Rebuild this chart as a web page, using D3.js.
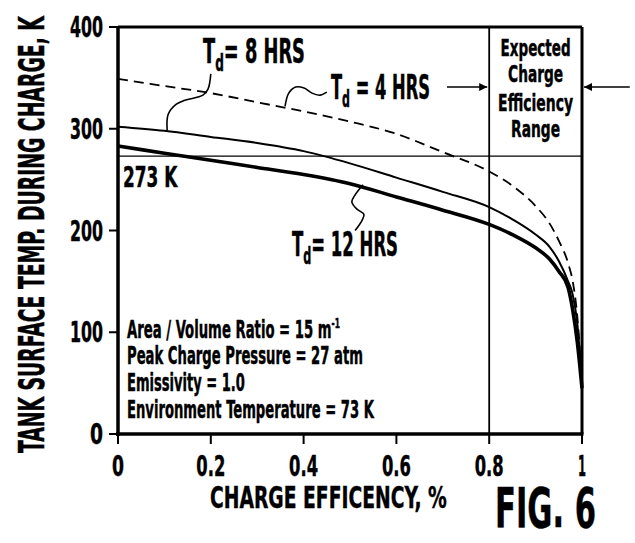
<!DOCTYPE html>
<html>
<head>
<meta charset="utf-8">
<script src="https://cdn.jsdelivr.net/npm/d3@7"></script>
<style>
  body { margin: 0; background: #fff; }
  text { font-family: "Liberation Sans Narrow", "Arial Narrow", "DejaVu Sans Condensed", sans-serif; font-weight: bold; fill: #000; stroke: #000; stroke-width: 0.4; }
</style>
</head>
<body>
<svg id="chart" width="635" height="543"></svg>
<script>
// charge efficiency (fraction) sampled along each curve
const efficiency = [0, 0.1, 0.2, 0.3, 0.4, 0.5, 0.6, 0.7, 0.8, 0.85, 0.9, 0.93, 0.95, 0.97, 0.98, 0.99, 1.0];
// tank surface temperature, K
const td4 = [349, 342, 335, 326, 317, 307, 295, 277, 258, 244, 224, 207, 190, 168, 150, 115, 50];
const td8 = [302, 298, 292, 286, 278, 266, 252, 238, 223, 211, 196, 184, 170, 150, 137, 108, 48];
const td12 = [283, 276, 269, 262, 255, 246, 233, 220, 206, 196, 183, 172, 160, 144, 122, 90, 45];

const xTicks = [0, 0.2, 0.4, 0.6, 0.8, 1];
const xTickLabels = ['0', '0.2', '0.4', '0.6', '0.8', '1'];
const yTicks = [0, 100, 200, 300, 400];

const freezeTemp = 273;
const rangeStart = 0.8;
const rangeLabel = ['Expected', 'Charge', 'Efficiency', 'Range'];
const notes = ['Area / Volume Ratio = 15 m', 'Peak Charge Pressure = 27 atm', 'Emissivity = 1.0', 'Environment Temperature = 73 K'];

// leader squiggles from labels to curves, [efficiency, K]
const lead8 = [[0.200, 354], [0.194, 339], [0.183, 333], [0.144, 328], [0.125, 324], [0.108, 314], [0.106, 298]];
const lead4 = [[0.360, 322], [0.368, 335], [0.383, 341], [0.401, 340], [0.418, 335], [0.435, 333], [0.450, 336]];
const lead12 = [[0.528, 245], [0.511, 235], [0.504, 228], [0.515, 221], [0.530, 216], [0.526, 210], [0.511, 200]];

const svg = d3.select('#chart');

const x = d3.scaleLinear().domain([0, 1]).range([118, 582]);
const y = d3.scaleLinear().domain([0, 400]).range([434, 27]);

// squeeze a text element so it spans w pixels from left, stretched tall by sy
function fit(t, left, base, w, sy) {
  sy = sy || 1.12;
  const bw = t.node().getBBox().width;
  t.attr('transform', 'translate(' + left + ',' + base + ') scale(' + (w / bw) + ',' + sy + ')');
  return t;
}
function addText(str, size) {
  return svg.append('text').attr('font-size', size).text(str);
}

// frame
svg.append('line').attr('x1', x(0)).attr('x2', x(1)).attr('y1', y(400)).attr('y2', y(400))
  .attr('stroke', '#000').attr('stroke-width', 3);
svg.append('line').attr('x1', x(1)).attr('x2', x(1)).attr('y1', y(400)).attr('y2', y(0))
  .attr('stroke', '#000').attr('stroke-width', 3);

// reference lines
svg.append('line').attr('x1', x(0)).attr('x2', x(1)).attr('y1', y(freezeTemp)).attr('y2', y(freezeTemp))
  .attr('stroke', '#000').attr('stroke-width', 1.2);
svg.append('line').attr('x1', x(rangeStart)).attr('x2', x(rangeStart)).attr('y1', y(400)).attr('y2', y(0))
  .attr('stroke', '#000').attr('stroke-width', 1.8);

// axes
svg.append('line').attr('x1', x(0)).attr('x2', x(0)).attr('y1', y(400) - 1).attr('y2', y(0) + 2)
  .attr('stroke', '#000').attr('stroke-width', 3.5);
svg.append('line').attr('x1', x(0) - 2).attr('x2', x(1) + 1.5).attr('y1', y(0)).attr('y2', y(0))
  .attr('stroke', '#000').attr('stroke-width', 3.5);

svg.selectAll('.ytick').data(yTicks).enter().append('line')
  .attr('x1', x(0) - 9).attr('x2', x(0)).attr('y1', d => y(d)).attr('y2', d => y(d))
  .attr('stroke', '#000').attr('stroke-width', 2);
svg.selectAll('.xtick').data(xTicks).enter().append('line')
  .attr('x1', d => x(d)).attr('x2', d => x(d)).attr('y1', y(0)).attr('y2', y(0) + 10)
  .attr('stroke', '#000').attr('stroke-width', 2);

yTicks.forEach(v => {
  const s = String(v);
  const w = s.length === 1 ? 13 : 33;
  fit(addText(s, 26), 103 - w, y(v) + 10, w);
});
xTicks.forEach((v, i) => {
  const s = xTickLabels[i];
  const w = s.length === 1 ? (s === '1' ? 8 : 12) : 29;
  fit(addText(s, 26), x(v) - w / 2, 476, w);
});

// curves
const line = d3.line().x(d => x(d[0])).y(d => y(d[1])).curve(d3.curveMonotoneX);
const pts = arr => efficiency.map((e, i) => [e, arr[i]]);

svg.append('path').attr('d', line(pts(td4))).attr('fill', 'none')
  .attr('stroke', '#000').attr('stroke-width', 1.8).attr('stroke-dasharray', '10,6');
svg.append('path').attr('d', line(pts(td8))).attr('fill', 'none')
  .attr('stroke', '#000').attr('stroke-width', 2);
svg.append('path').attr('d', line(pts(td12))).attr('fill', 'none')
  .attr('stroke', '#000').attr('stroke-width', 3.6);

// leaders
const lead = d3.line().x(d => x(d[0])).y(d => y(d[1])).curve(d3.curveCatmullRom);
[lead8, lead4, lead12].forEach(l => {
  svg.append('path').attr('d', lead(l)).attr('fill', 'none')
    .attr('stroke', '#000').attr('stroke-width', 1.6);
});

// T_d labels
function tdLabel(rest, left, base, w) {
  const t = svg.append('text').attr('font-size', 28);
  t.append('tspan').text('T');
  t.append('tspan').attr('font-size', 19).attr('dy', 7).text('d');
  t.append('tspan').attr('dy', -7).text(rest);
  return fit(t, left, base, w, 1.18);
}
tdLabel('= 8 HRS', 203, 63, 102);
tdLabel(' = 4 HRS', 331, 99, 99);
tdLabel('= 12 HRS', 292, 256, 106);

fit(addText('273 K', 26), 123, 187, 55);

// arrows into the efficiency range box
svg.append('defs').append('marker').attr('id', 'ah')
  .attr('viewBox', '0 0 10 10').attr('refX', 10).attr('refY', 5)
  .attr('markerWidth', 14).attr('markerHeight', 8).attr('markerUnits', 'userSpaceOnUse')
  .attr('orient', 'auto')
  .append('path').attr('d', 'M0,0L10,5L0,10Z').attr('fill', '#000');
svg.append('line').attr('x1', x(0.709)).attr('x2', x(rangeStart) - 2).attr('y1', y(341)).attr('y2', y(341))
  .attr('stroke', '#000').attr('stroke-width', 1.6).attr('marker-end', 'url(#ah)');
svg.append('line').attr('x1', x(1.103)).attr('x2', x(1) + 2).attr('y1', y(341)).attr('y2', y(341))
  .attr('stroke', '#000').attr('stroke-width', 1.6).attr('marker-end', 'url(#ah)');

const rangeW = [70, 55, 75, 49];
const rangeBase = [56, 82, 111, 137];
const cx = (x(rangeStart) + x(1)) / 2;
rangeLabel.forEach((s, i) => {
  fit(addText(s, 21), cx - rangeW[i] / 2, rangeBase[i], rangeW[i]);
});

// parameter notes
const noteW = [213, 236, 118, 248];
const noteBase = [338, 364, 391, 418];
notes.forEach((s, i) => {
  const t = svg.append('text').attr('font-size', 21);
  t.append('tspan').text(s);
  if (i === 0) t.append('tspan').attr('font-size', 12).attr('dy', -9).text('-1');
  fit(t, 127, noteBase[i], noteW[i], 1.15);
});

// axis titles
const yt = addText('TANK SURFACE TEMP. DURING CHARGE, K', 32);
const yw = yt.node().getBBox().width;
yt.attr('transform', 'translate(44,453) rotate(-90) scale(' + (438 / yw) + ',1.12)');

fit(addText('CHARGE EFFICENCY, %', 28), 210, 508, 237, 1.1);

const fig = addText('FIG. 6', 46).attr('stroke', '#000').attr('stroke-width', 3)
  .attr('font-family', '"DejaVu Sans Condensed", "Liberation Sans Narrow", sans-serif');
fit(fig, 495, 527, 101, 1.2);
</script>
</body>
</html>
